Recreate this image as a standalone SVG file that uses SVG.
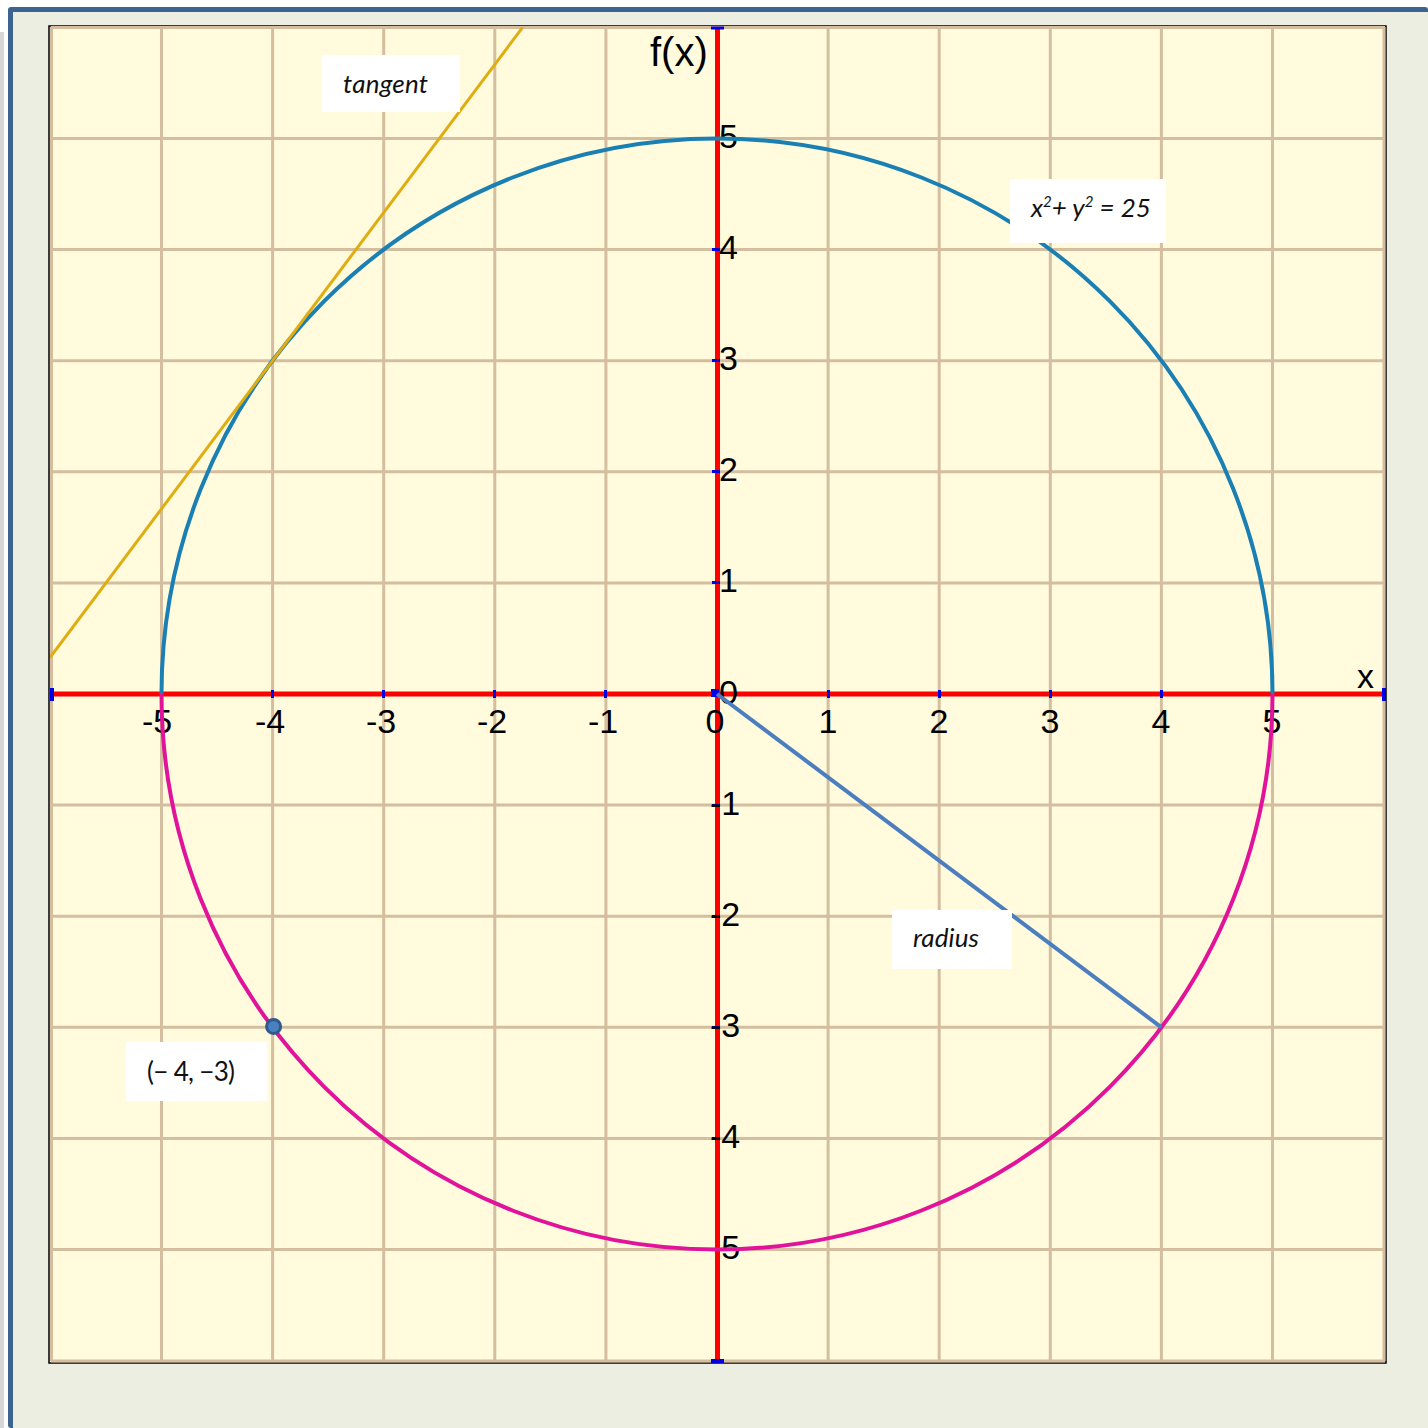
<svg xmlns="http://www.w3.org/2000/svg" width="1428" height="1428" viewBox="0 0 1428 1428">
<defs>
<style>
.grid{stroke:#D4BE9F;stroke-width:3;fill:none}
.axis{stroke:#FF0000;stroke-width:5;fill:none}
.tick{fill:#0000E0}
.num{font-family:"Liberation Sans",Arial,sans-serif;font-size:34px;fill:#000}
.lbl{font-family:Lato,"Open Sans",sans-serif;font-size:26px;fill:#111}
.box{fill:#FFFFFF}
</style>
<clipPath id="plot"><rect x="50" y="27" width="1335" height="1335"/></clipPath>
</defs>
<rect x="0" y="0" width="1428" height="1428" fill="#FFFFFF"/>
<rect x="0" y="32" width="4" height="1396" fill="#D6D6D6"/>
<rect x="8" y="7" width="1420" height="1421" rx="3" fill="#3B6491"/>
<rect x="13" y="12" width="1415" height="1416" fill="#EBEEE0"/>
<g id="plotarea">
<rect x="49" y="26" width="1337" height="1337" fill="#FFFBDC" stroke="#000" stroke-width="1.5"/>
<g class="grid">
<path d="M51.5 27V1361M161.5 27V1361M272.6 27V1361M383.7 27V1361M494.8 27V1361M605.9 27V1361M828.1 27V1361M939.2 27V1361M1050.3 27V1361M1161.4 27V1361M1272.5 27V1361M1384 27V1361"/>
<path d="M51 27.5H1385M51 138.5H1385M51 249.6H1385M51 360.7H1385M51 471.8H1385M51 582.9H1385M51 805.1H1385M51 916.2H1385M51 1027.3H1385M51 1138.4H1385M51 1249.5H1385M51 1361H1385"/>
</g>
</g>
<g id="axes">
<path class="axis" d="M51 694H1385M717.5 27V1361"/>
<g class="tick">
<rect x="50" y="688" width="4" height="13"/>
<rect x="1382" y="688" width="4" height="13"/>
<rect x="711" y="26.5" width="13" height="3"/>
<rect x="711" y="1359" width="13" height="4"/>
<rect x="160" y="690" width="3" height="8"/>
<rect x="271" y="690" width="3" height="8"/>
<rect x="382" y="690" width="3" height="8"/>
<rect x="493" y="690" width="3" height="8"/>
<rect x="604" y="690" width="3" height="8"/>
<rect x="711" y="689" width="8" height="8"/>
<rect x="827" y="690" width="3" height="8"/>
<rect x="938" y="690" width="3" height="8"/>
<rect x="1049" y="690" width="3" height="8"/>
<rect x="1160" y="690" width="3" height="8"/>
<rect x="1271" y="690" width="3" height="8"/>
<rect x="712" y="137" width="8" height="3"/>
<rect x="712" y="248" width="8" height="3"/>
<rect x="712" y="359" width="8" height="3"/>
<rect x="712" y="470" width="8" height="3"/>
<rect x="712" y="581" width="8" height="3"/>
<rect x="712" y="804" width="8" height="3"/>
<rect x="712" y="915" width="8" height="3"/>
<rect x="712" y="1026" width="8" height="3"/>
<rect x="712" y="1137" width="8" height="3"/>
<rect x="712" y="1248" width="8" height="3"/>
</g>
<g class="num" text-anchor="middle">
<text x="157" y="733">-5</text>
<text x="270" y="733">-4</text>
<text x="381" y="733">-3</text>
<text x="492" y="733">-2</text>
<text x="603" y="733">-1</text>
<text x="715" y="733">0</text>
<text x="828" y="733">1</text>
<text x="939" y="733">2</text>
<text x="1050" y="733">3</text>
<text x="1161" y="733">4</text>
<text x="1272" y="733">5</text>
</g>
<g class="num">
<text x="719" y="148">5</text>
<text x="719" y="259">4</text>
<text x="719" y="370">3</text>
<text x="719" y="481">2</text>
<text x="719" y="592">1</text>
<text x="719" y="704">0</text>
<text x="710" y="815">-1</text>
<text x="710" y="926">-2</text>
<text x="710" y="1037">-3</text>
<text x="710" y="1148">-4</text>
<text x="710" y="1259">-5</text>
<text x="650" y="66" font-size="40">f(x)</text>
<text x="1357" y="688">x</text>
</g>
</g>
<g id="connectors" clip-path="url(#plot)">
<path d="M161.5 694A555.5 555.5 0 0 1 1272.5 694" fill="none" stroke="#1A80B4" stroke-width="4"/>
<path d="M1272.5 694A555.5 555.5 0 0 1 161.5 694" fill="none" stroke="#E0139A" stroke-width="4"/>
<line x1="50" y1="657.5" x2="522.6" y2="27.4" stroke="#E0AC10" stroke-width="3"/>
<line x1="717" y1="694" x2="1161.4" y2="1027.3" stroke="#4A7EC0" stroke-width="4"/>
</g>
<g id="point">
<circle cx="273.6" cy="1026.5" r="7" fill="#4A80C0" stroke="#2F5A8A" stroke-width="3"/>
</g>
<g id="label-tangent">
<rect class="box" x="322" y="55" width="138" height="57"/>
<text class="lbl" x="343" y="93" font-style="italic" textLength="85">tangent</text>
</g>
<g id="label-equation">
<rect class="box" x="1010" y="179" width="156" height="64"/>
<text class="lbl" x="1031" y="217" font-style="italic">x<tspan font-size="15" dy="-10">2</tspan><tspan dy="10">+ y</tspan><tspan font-size="15" dy="-10">2</tspan><tspan dy="10"> = 25</tspan></text>
</g>
<g id="label-radius">
<rect class="box" x="892" y="910" width="120" height="59"/>
<text class="lbl" x="913" y="947" font-style="italic" textLength="66">radius</text>
</g>
<g id="label-point">
<rect class="box" x="126" y="1042" width="141" height="59"/>
<text class="lbl" x="147" y="1081" textLength="88">(− 4, −3)</text>
</g>
</svg>
